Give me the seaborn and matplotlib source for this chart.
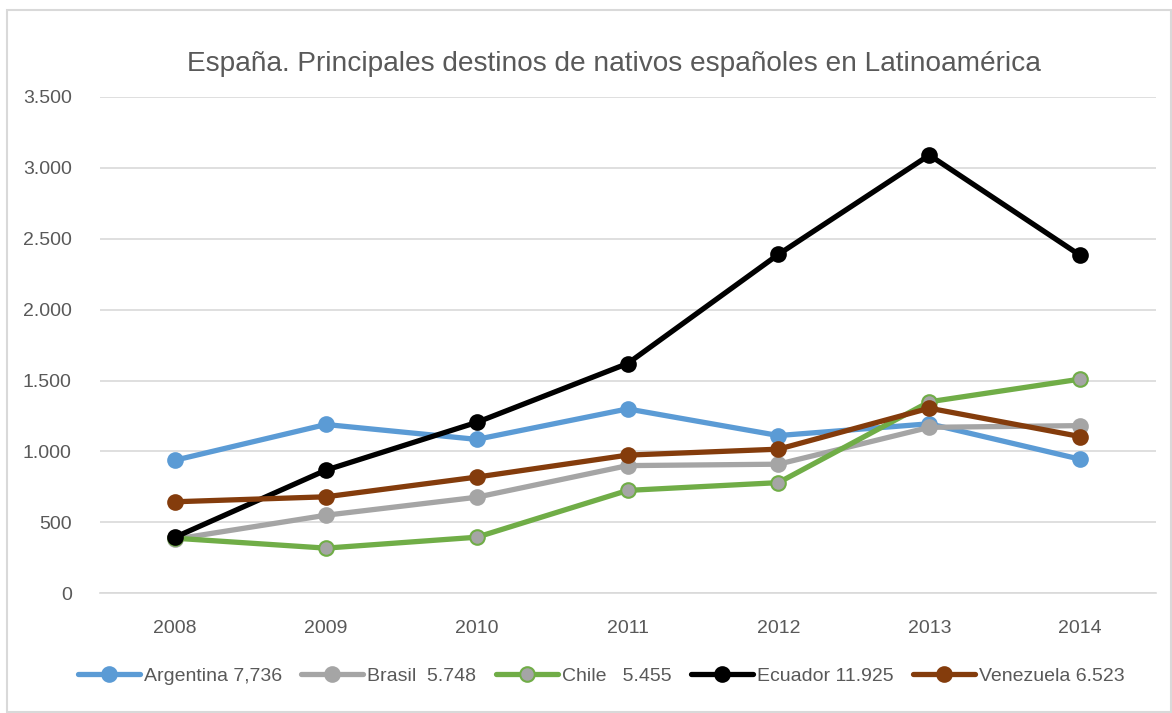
import numpy as np
import pandas as pd
import matplotlib
matplotlib.use("Agg")
import matplotlib.pyplot as plt
from matplotlib.patches import Rectangle
from matplotlib.ticker import FuncFormatter, MultipleLocator
import seaborn as sns

years = [2008, 2009, 2010, 2011, 2012, 2013, 2014]
argentina = [938, 1190, 1085, 1300, 1112, 1195, 945]
brasil = [381, 550, 677, 900, 910, 1170, 1182]
chile = [388, 318, 395, 725, 780, 1350, 1510]
ecuador = [395, 868, 1205, 1620, 2390, 3090, 2383]
venezuela = [645, 680, 819, 974, 1016, 1305, 1105]

labels = ["Argentina 7,736", "Brasil  5.748", "Chile   5.455", "Ecuador 11.925", "Venezuela 6.523"]
series = [argentina, brasil, chile, ecuador, venezuela]
colors = ["#5B9BD5", "#A5A5A5", "#70AD47", "#000000", "#843C0C"]
marker_faces = ["#5B9BD5", "#A5A5A5", "#A5A5A5", "#000000", "#843C0C"]

sns.set_theme(style="white")
plt.rcParams["font.family"] = ["Liberation Sans", "DejaVu Sans"]

fig = plt.figure(figsize=(11.72, 7.13), dpi=100)
ax = fig.add_axes([0.085, 0.168, 0.901, 0.696])

for lab, vals, col, mfc in zip(labels, series, colors, marker_faces):
    df = pd.DataFrame({"year": years, "value": vals})
    sns.lineplot(data=df, x="year", y="value", ax=ax, color=col, label=lab,
                 linewidth=3.8, marker="o", markersize=10.5,
                 markerfacecolor=mfc, markeredgecolor=col, markeredgewidth=1.5)

ax.set_xlim(2007.5, 2014.5)
ax.set_ylim(0, 3500)
ax.yaxis.set_major_locator(MultipleLocator(500))
ax.yaxis.set_major_formatter(FuncFormatter(lambda v, p: f"{v:,.0f}".replace(",", ".")))
ax.set_xticks(years)
ax.set_xlabel("")
ax.set_ylabel("")
ax.grid(axis="y", color="#D9D9D9", linewidth=1.2)
ax.set_axisbelow(True)
for s in ["top", "right", "left"]:
    ax.spines[s].set_visible(False)
ax.spines["bottom"].set_color("#D9D9D9")
ax.spines["bottom"].set_linewidth(1.2)
ax.tick_params(axis="both", labelsize=14, colors="#595959", length=0)
ax.tick_params(axis="x", pad=19)
ax.tick_params(axis="y", pad=20)

fig.suptitle("España. Principales destinos de nativos españoles en Latinoamérica",
             x=0.524, y=0.928, fontsize=20.2, color="#595959")

ax.legend(loc="center", bbox_to_anchor=(0.513, 0.052), bbox_transform=fig.transFigure,
          ncol=5, frameon=False, fontsize=14, handlelength=3.2, handletextpad=0.2,
          columnspacing=1.0, labelcolor="#595959")

fig.patches.append(Rectangle((0.006, 0.002), 0.993, 0.984, transform=fig.transFigure,
                             fill=False, edgecolor="#D9D9D9", linewidth=1.5))

fig.savefig("out.png", dpi=100)
